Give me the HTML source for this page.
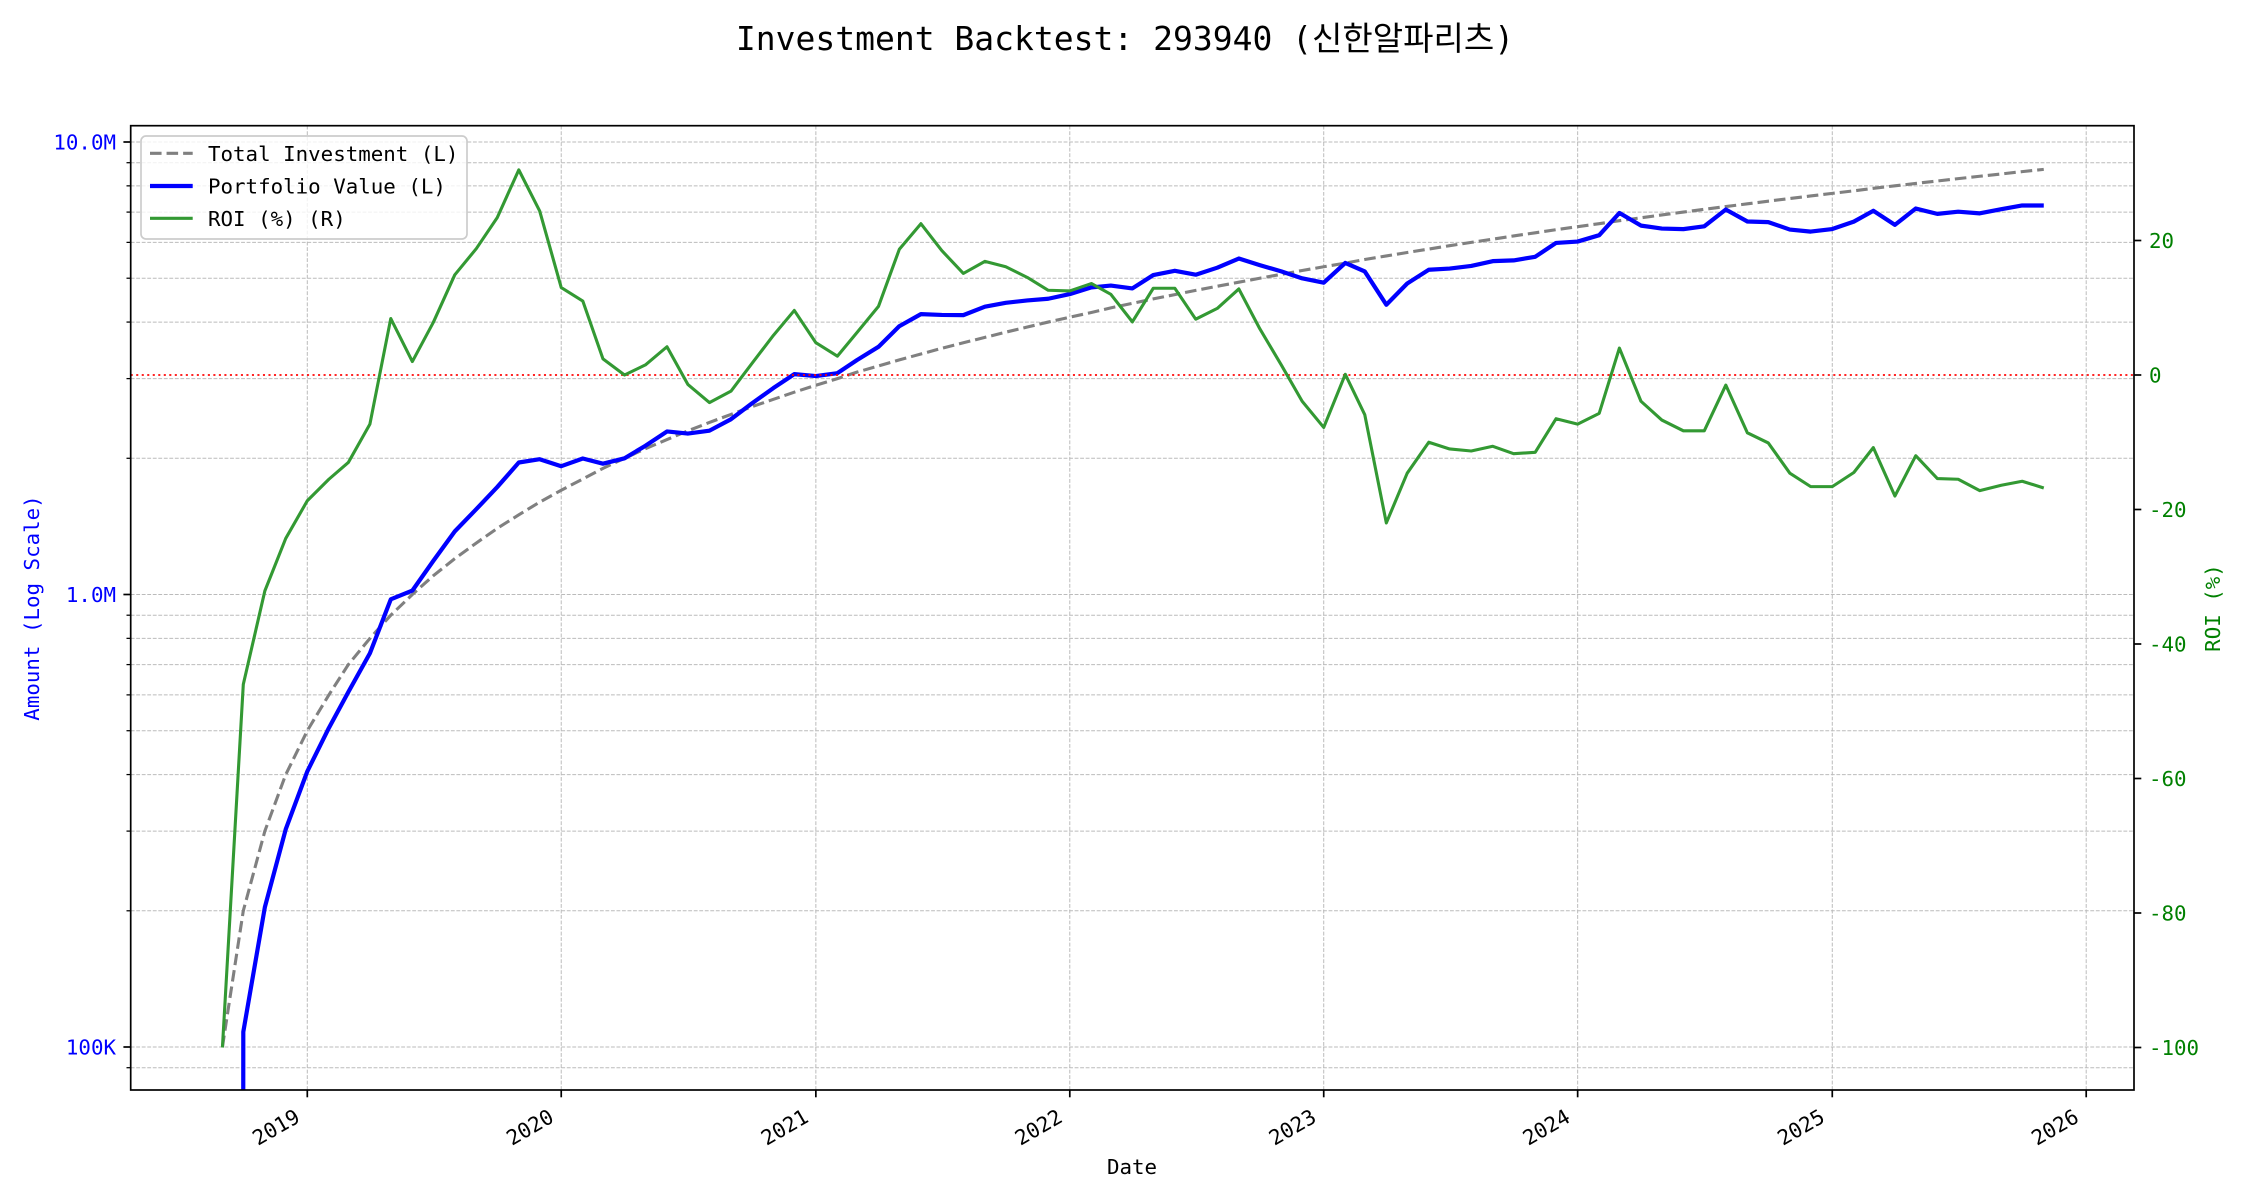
<!DOCTYPE html>
<html><head><meta charset="utf-8">
<style>
html,body{margin:0;padding:0;background:#fff;width:2250px;height:1200px;overflow:hidden;}
svg{display:block;}
text{font-family:"DejaVu Sans Mono","Liberation Mono","Noto Sans CJK KR",monospace;}
</style></head>
<body>
<svg id="c" width="2250" height="1200" viewBox="0 0 2250 1200" xmlns="http://www.w3.org/2000/svg" overflow="hidden">
<rect width="2250" height="1200" fill="#fff"/>
<defs><clipPath id="ax"><rect x="130.7" y="125.7" width="2003.3" height="964.3"/></clipPath></defs>
<g id="grid" stroke="#b0b0b0" stroke-width="1" stroke-dasharray="3.85 1.67" opacity="0.85" fill="none"></g>
<g id="series" clip-path="url(#ax)" fill="none"></g>
<g id="ticks" stroke="#000" fill="none"></g>
<rect x="130.7" y="125.7" width="2003.3" height="964.3" fill="none" stroke="#000" stroke-width="1.7"/>

<!-- legend -->
<rect x="141" y="136" width="326" height="103" rx="5" ry="5" fill="#fff" fill-opacity="0.8" stroke="#cccccc" stroke-width="1.7"/>
<line x1="150" y1="153.3" x2="192.7" y2="153.3" stroke="#808080" stroke-width="3.1" stroke-dasharray="11.56 5"/>
<line x1="150" y1="186" x2="192.7" y2="186" stroke="#0000ff" stroke-width="4.2"/>
<line x1="150" y1="218.3" x2="192.7" y2="218.3" stroke="#339933" stroke-width="3.1"/>
<text x="208" y="161" font-size="20.8" fill="#000">Total Investment (L)</text>
<text x="208" y="193.5" font-size="20.8" fill="#000">Portfolio Value (L)</text>
<text x="208" y="226" font-size="20.8" fill="#000">ROI (%) (R)</text>

<!-- title -->
<text x="1125" y="50" text-anchor="middle" font-size="33" fill="#000">Investment Backtest: 293940 (신한알파리츠)</text>

<!-- left tick labels -->
<g font-size="20.8" fill="#0000ff" text-anchor="end">
<text x="116" y="149.5">10.0M</text>
<text x="116" y="602">1.0M</text>
<text x="116" y="1054.5">100K</text>
</g>
<!-- right tick labels -->
<g font-size="20.8" fill="#008000" text-anchor="start">
<text x="2149" y="248">20</text>
<text x="2149" y="382.5">0</text>
<text x="2149" y="517">-20</text>
<text x="2149" y="651.5">-40</text>
<text x="2149" y="786">-60</text>
<text x="2149" y="920.5">-80</text>
<text x="2149" y="1055">-100</text>
</g>
<!-- x tick labels -->
<g font-size="20.8" fill="#000" text-anchor="end">
<text transform="translate(301.3,1121) rotate(-30)">2019</text>
<text transform="translate(555.2,1121) rotate(-30)">2020</text>
<text transform="translate(809.9,1121) rotate(-30)">2021</text>
<text transform="translate(1063.8,1121) rotate(-30)">2022</text>
<text transform="translate(1317.7,1121) rotate(-30)">2023</text>
<text transform="translate(1571.6,1121) rotate(-30)">2024</text>
<text transform="translate(1826.2,1121) rotate(-30)">2025</text>
<text transform="translate(2080.2,1121) rotate(-30)">2026</text>
</g>
<text x="1132" y="1174" text-anchor="middle" font-size="20.8" fill="#000">Date</text>
<text transform="translate(39,608) rotate(-90)" text-anchor="middle" font-size="20.8" fill="#0000ff">Amount (Log Scale)</text>
<text transform="translate(2220,608) rotate(-90)" text-anchor="middle" font-size="20.8" fill="#008000">ROI (%)</text>
</svg>
<script>
(function(){
const NS='http://www.w3.org/2000/svg';
const L=130.7,R=2134,T=125.7,B=1090;
const yL=v=>142+(7-Math.log10(v))*452.5;
const yR=r=>375-r*6.725;
const d0=Date.UTC(2019,0,1);
const xD=(y,m,d)=>307.3+(Date.UTC(y,m,d||1)-d0)/864e5*0.6957;
function add(p,tag,a){const e=document.createElementNS(NS,tag);for(const k in a)e.setAttribute(k,a[k]);p.appendChild(e);return e;}
const grid=document.getElementById('grid'),series=document.getElementById('series'),ticks=document.getElementById('ticks');
for(let y=2019;y<=2026;y++){const x=xD(y,0,1);
 add(grid,'line',{x1:x,y1:T,x2:x,y2:B});
 add(ticks,'line',{x1:x,y1:B,x2:x,y2:B+7.3,'stroke-width':1.7});}
const vals=[9e4];
for(const dec of [1e5,1e6]){for(let k=1;k<=9;k++)vals.push(k*dec);}
vals.push(1e7);
for(const v of vals){const y=yL(v);
 add(grid,'line',{x1:L,y1:y,x2:R,y2:y});
 const major=(v===1e5||v===1e6||v===1e7);
 add(ticks,'line',{x1:L-(major?7.3:4.2),y1:y,x2:L,y2:y,'stroke-width':major?1.7:1.25});}
for(let r=-100;r<=20;r+=20){const y=yR(r);add(ticks,'line',{x1:R,y1:y,x2:R+7.3,y2:y,'stroke-width':1.7});}
const roi=[-100,-46,-32.1,-24.3,-18.7,-15.5,-13.0,-7.3,8.4,2.0,7.8,14.9,18.8,23.4,30.5,24.4,13.0,11.0,2.4,0,1.5,4.2,-1.4,-4.1,-2.4,1.7,5.9,9.6,4.8,2.8,6.3,10.2,18.7,22.5,18.5,15.1,16.9,16.1,14.5,12.6,12.5,13.6,12.0,7.9,12.9,12.9,8.3,9.9,12.8,6.9,1.5,-3.9,-7.8,0.1,-5.9,-22.0,-14.6,-10.0,-11.0,-11.3,-10.6,-11.7,-11.5,-6.5,-7.3,-5.7,4.0,-3.9,-6.7,-8.3,-8.3,-1.5,-8.6,-10.1,-14.6,-16.6,-16.6,-14.5,-10.8,-18.0,-12.0,-15.4,-15.5,-17.2,-16.4,-15.8,-16.8];
let gp='',bp='',rp='';
for(let n=0;n<roi.length;n++){
 const x=xD(2018,8+n,1);const inv=1e5*(n+1);
 gp+=(n?'L':'M')+x.toFixed(2)+' '+yL(inv).toFixed(2);
 rp+=(n?'L':'M')+x.toFixed(2)+' '+yR(roi[n]).toFixed(2);
 const v=inv*(1+roi[n]/100);
 if(v>0){ if(bp==='') bp='M'+(x-0.05).toFixed(2)+' 1100'; bp+='L'+x.toFixed(2)+' '+yL(v).toFixed(2);}
}
add(series,'path',{d:gp,stroke:'#808080','stroke-width':3.1,'stroke-dasharray':'11.56 5'});
add(series,'path',{d:bp,stroke:'#0000ff','stroke-width':4.2,'stroke-linejoin':'round'});
add(series,'line',{x1:L,y1:375,x2:R,y2:375,stroke:'#ff0000','stroke-opacity':0.85,'stroke-width':2.08,'stroke-dasharray':'2.08 3.43'});
add(series,'path',{d:rp,stroke:'#339933','stroke-width':3.1,'stroke-linejoin':'round'});
})();
</script>
</body></html>
